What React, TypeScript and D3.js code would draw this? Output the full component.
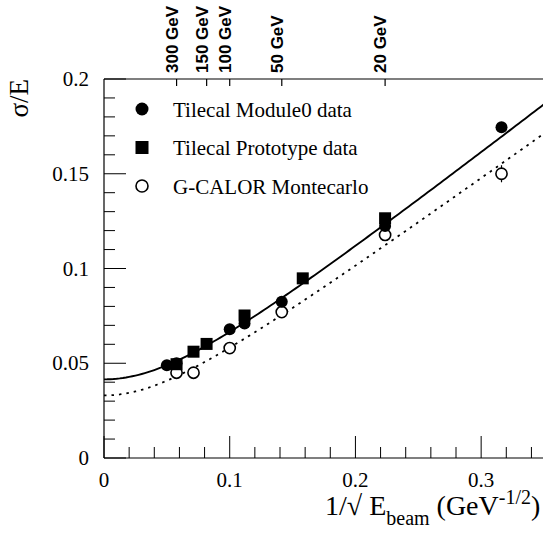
import React from "react";
import * as d3 from "d3";

// Tilecal Module0 data (filled circles)
const module0X = [0.05, 0.0577, 0.1, 0.1118, 0.1414, 0.2236, 0.3162];
const module0Y = [0.049, 0.05, 0.068, 0.071, 0.0825, 0.1224, 0.1745];
// Tilecal Prototype data (filled squares)
const protoX = [0.0577, 0.0712, 0.0816, 0.1118, 0.1581, 0.2236];
const protoY = [0.0495, 0.0561, 0.0602, 0.0752, 0.0948, 0.1265];
// G-CALOR Montecarlo (open circles)
const mcX = [0.0577, 0.0712, 0.1, 0.1414, 0.2236, 0.3162];
const mcY = [0.045, 0.045, 0.058, 0.077, 0.1177, 0.150];
const mcErr = [0, 0, 0, 0, 0.002, 0.0045];

// fit curves: sigma/E = a/sqrt(E) (+) b
const fitData = { a: 0.52, b: 0.0415 };
const fitMC = { a: 0.48, b: 0.033 };

const xTicksMajor = [0, 0.1, 0.2, 0.3];
const xTickLabels = ["0", "0.1", "0.2", "0.3"];
const yTicksMajor = [0, 0.05, 0.1, 0.15, 0.2];
const yTickLabels = ["0", "0.05", "0.1", "0.15", "0.2"];
const topEnergies = [300, 150, 100, 50, 20];
const topLabels = ["300 GeV", "150 GeV", "100 GeV", "50 GeV", "20 GeV"];
const legendLabels = ["Tilecal Module0 data", "Tilecal Prototype data", "G-CALOR Montecarlo"];

const W = 543, H = 534;
const L = 104, R = 544, T = 79, B = 458;

export default function App() {
  const x = d3.scaleLinear().domain([0, 0.35]).range([L, R]);
  const y = d3.scaleLinear().domain([0, 0.2]).range([B, T]);
  const serif = "'Liberation Serif', 'Times New Roman', serif";
  const sans = "'Liberation Sans', Arial, sans-serif";

  const samples = d3.range(0, 0.3501, 0.0025);
  const mk = (f: { a: number; b: number }) =>
    d3.line<number>()
      .x((v) => x(v))
      .y((v) => y(Math.sqrt((f.a * v) ** 2 + f.b ** 2)))(samples) || "";

  const xMinor = d3.range(0, 0.351, 0.02).filter((v) => Math.abs(v * 10 - Math.round(v * 10)) > 1e-6);
  const yMinor = d3.range(0, 0.2001, 0.01).filter((v) => Math.abs(v * 20 - Math.round(v * 20)) > 1e-6);
  const legendY = [109, 147.5, 186];

  return (
    <svg width={W} height={H} style={{ position: "absolute", left: 0, top: 0, background: "#fff" }}>
      <rect x={0} y={0} width={W} height={H} fill="#fff" />
      {/* axes lines */}
      <line x1={L} x2={L} y1={T} y2={B} stroke="#000" strokeWidth={1.2} />
      <line x1={L} x2={R} y1={B} y2={B} stroke="#000" strokeWidth={1.2} />
      <line x1={L} x2={R} y1={T} y2={T} stroke="#000" strokeWidth={1.2} />
      {/* x ticks */}
      {xTicksMajor.map((v) => (
        <line key={"xM" + v} x1={x(v)} x2={x(v)} y1={B} y2={B - 22} stroke="#000" strokeWidth={1} />
      ))}
      {xMinor.map((v) => (
        <line key={"xm" + v} x1={x(v)} x2={x(v)} y1={B} y2={B - 11} stroke="#000" strokeWidth={1} />
      ))}
      {xTicksMajor.map((v, i) => (
        <text key={"xl" + v} x={x(v)} y={487} textAnchor="middle" fontFamily={serif} fontSize={21}>
          {xTickLabels[i]}
        </text>
      ))}
      {/* y ticks */}
      {yTicksMajor.map((v) => (
        <line key={"yM" + v} x1={L} x2={L + 22} y1={y(v)} y2={y(v)} stroke="#000" strokeWidth={1} />
      ))}
      {yMinor.map((v) => (
        <line key={"ym" + v} x1={L} x2={L + 11} y1={y(v)} y2={y(v)} stroke="#000" strokeWidth={1} />
      ))}
      {yTicksMajor.map((v, i) => (
        <text key={"yl" + v} x={89} y={y(v) + 7} textAnchor="end" fontFamily={serif} fontSize={21}>
          {yTickLabels[i]}
        </text>
      ))}
      {/* top energy axis */}
      {topEnergies.map((e, i) => {
        const px = x(1 / Math.sqrt(e));
        return (
          <g key={"top" + e}>
            <line x1={px} x2={px} y1={T} y2={T + 7} stroke="#000" strokeWidth={1.2} />
            <text
              transform={`translate(${px + 1},${T - 6}) rotate(-90)`}
              fontFamily={sans}
              fontWeight="bold"
              fontSize={17}
            >
              {topLabels[i]}
            </text>
          </g>
        );
      })}
      {/* axis titles */}
      <text transform={`translate(28,${T}) rotate(-90)`} textAnchor="end" fontFamily={serif} fontSize={27}>
        σ/E
      </text>
      <text x={325} y={515} fontFamily={serif} fontSize={28}>
        1/√ E
        <tspan fontSize={20} dy={10}>beam</tspan>
        <tspan dy={-10}> (GeV</tspan>
        <tspan fontSize={20} dy={-11}>-1/2</tspan>
        <tspan dy={11}>)</tspan>
      </text>
      {/* curves */}
      <path d={mk(fitMC)} fill="none" stroke="#000" strokeWidth={1.8} strokeDasharray="2.5,5" />
      <path d={mk(fitData)} fill="none" stroke="#000" strokeWidth={1.9} />
      {/* MC points */}
      {mcX.map((v, i) => (
        <g key={"mc" + i}>
          {mcErr[i] > 0 && (
            <line x1={x(v)} x2={x(v)} y1={y(mcY[i] - mcErr[i])} y2={y(mcY[i] + mcErr[i])} stroke="#000" strokeWidth={1.2} />
          )}
          <circle cx={x(v)} cy={y(mcY[i])} r={5.6} fill="#fff" stroke="#000" strokeWidth={1.6} />
        </g>
      ))}
      {/* prototype squares */}
      {protoX.map((v, i) => (
        <rect key={"p" + i} x={x(v) - 6} y={y(protoY[i]) - 6} width={12} height={12} fill="#000" />
      ))}
      {/* module0 circles */}
      {module0X.map((v, i) => (
        <circle key={"m" + i} cx={x(v)} cy={y(module0Y[i])} r={6} fill="#000" />
      ))}
      {/* legend */}
      <circle cx={142} cy={legendY[0]} r={6.5} fill="#000" />
      <rect x={135.5} y={legendY[1] - 6.5} width={13} height={13} fill="#000" />
      <circle cx={142} cy={legendY[2]} r={6} fill="#fff" stroke="#000" strokeWidth={1.6} />
      {legendLabels.map((t, i) => (
        <text key={t} x={173} y={legendY[i] + 7.5} fontFamily={serif} fontSize={21}>
          {t}
        </text>
      ))}
    </svg>
  );
}
